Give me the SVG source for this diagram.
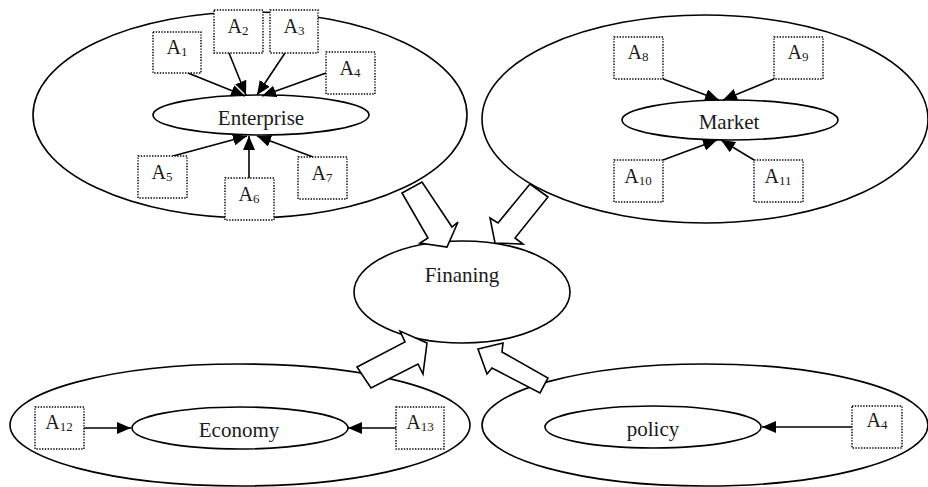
<svg xmlns="http://www.w3.org/2000/svg" width="928" height="487" viewBox="0 0 928 487">
<style>
.outer{fill:none;stroke:#000;stroke-width:1.6}
.inner{fill:#fff;stroke:#000;stroke-width:1.6}
.box{fill:#fff;stroke:#000;stroke-width:1.4;stroke-dasharray:1.4 1.4}
.lbl{font-family:"Liberation Serif","Times New Roman",serif;font-size:21px;fill:#1a1a1a;text-anchor:middle}
.a{font-family:"Liberation Serif","Times New Roman",serif;font-size:20px;fill:#1a1a1a;text-anchor:middle}
.s{font-size:13px}
.con{fill:none;stroke:#000;stroke-width:1.6;marker-end:url(#ah)}
.blk{fill:#fff;stroke:#000;stroke-width:1.6;stroke-linejoin:miter}
</style>
<defs>
<marker id="ah" markerUnits="userSpaceOnUse" markerWidth="14" markerHeight="12" refX="14" refY="6" orient="auto">
<path d="M0,0 L14,6 L0,12 z" fill="#000"/>
</marker>
</defs>
<rect width="928" height="487" fill="#fff"/>

<g id="enterprise-group">
<ellipse class="outer" cx="250" cy="115" rx="217" ry="103"/>
<ellipse class="inner" cx="261" cy="115" rx="108" ry="20"/>
<text class="lbl" x="261" y="125">Enterprise</text>
</g>
<g id="market-group">
<ellipse class="outer" cx="705" cy="119" rx="223" ry="104"/>
<ellipse class="inner" cx="730" cy="120" rx="108" ry="20"/>
<text class="lbl" x="729" y="129">Market</text>
</g>
<g id="economy-group">
<ellipse class="outer" cx="240" cy="425" rx="230" ry="61"/>
<ellipse class="inner" cx="240" cy="428" rx="108" ry="21"/>
<text class="lbl" x="239" y="437">Economy</text>
</g>
<g id="policy-group">
<ellipse class="outer" cx="705" cy="425" rx="223" ry="61"/>
<ellipse class="inner" cx="653" cy="427" rx="108" ry="21"/>
<text class="lbl" x="653" y="436">policy</text>
</g>
<g id="financing">
<ellipse class="inner" cx="462" cy="292" rx="108" ry="51"/>
<text class="lbl" x="462" y="282">Finaning</text>
</g>

<g id="connectors">
<line class="con" x1="188" y1="73" x2="245" y2="96"/>
<line class="con" x1="229" y1="53" x2="246" y2="95"/>
<line class="con" x1="285" y1="53" x2="257" y2="95"/>
<line class="con" x1="326" y1="73" x2="262" y2="96"/>
<line class="con" x1="173" y1="156" x2="247" y2="136"/>
<line class="con" x1="249" y1="178" x2="249" y2="136"/>
<line class="con" x1="313" y1="157" x2="257" y2="136"/>
<line class="con" x1="663" y1="79" x2="719" y2="100"/>
<line class="con" x1="774" y1="79" x2="723" y2="100"/>
<line class="con" x1="663" y1="160" x2="717" y2="140"/>
<line class="con" x1="754" y1="160" x2="721" y2="140"/>
<line class="con" x1="84" y1="428" x2="131" y2="428"/>
<line class="con" x1="396" y1="428" x2="348" y2="428"/>
<line class="con" x1="852" y1="427" x2="762" y2="427"/>
<polygon class="blk" points="402,193 422,182 452,227 458,222 447,247 420,243 428,238"/>
<polygon class="blk" points="530,184 548,197 515,238 523,244 495,243 490,218 498,223"/>
<polygon class="blk" points="357,367 405,342 400,331 427,343 423,374 418,364 371,388"/>
<polygon class="blk" points="478,349 503,343 502,352 548,378 540,393 492,368 487,374"/>
</g>

<g id="A1"><rect class="box" x="153" y="32" width="48" height="41"/><text class="a" x="177" y="54">A<tspan class="s" dy="2">1</tspan></text></g>
<g id="A2"><rect class="box" x="214" y="10" width="49" height="43"/><text class="a" x="238" y="33">A<tspan class="s" dy="2">2</tspan></text></g>
<g id="A3"><rect class="box" x="270" y="10" width="48" height="43"/><text class="a" x="294" y="33">A<tspan class="s" dy="2">3</tspan></text></g>
<g id="A4"><rect class="box" x="326" y="52" width="49" height="42"/><text class="a" x="350" y="75">A<tspan class="s" dy="2">4</tspan></text></g>
<g id="A5"><rect class="box" x="138" y="156" width="49" height="42"/><text class="a" x="162" y="179">A<tspan class="s" dy="2">5</tspan></text></g>
<g id="A6"><rect class="box" x="225" y="178" width="49" height="42"/><text class="a" x="249" y="201">A<tspan class="s" dy="2">6</tspan></text></g>
<g id="A7"><rect class="box" x="298" y="157" width="49" height="42"/><text class="a" x="322" y="180">A<tspan class="s" dy="2">7</tspan></text></g>
<g id="A8"><rect class="box" x="614" y="37" width="49" height="42"/><text class="a" x="638" y="59">A<tspan class="s" dy="2">8</tspan></text></g>
<g id="A9"><rect class="box" x="774" y="37" width="49" height="42"/><text class="a" x="798" y="59">A<tspan class="s" dy="2">9</tspan></text></g>
<g id="A10"><rect class="box" x="614" y="160" width="49" height="42"/><text class="a" x="638" y="183">A<tspan class="s" dy="2">10</tspan></text></g>
<g id="A11"><rect class="box" x="754" y="160" width="49" height="42"/><text class="a" x="778" y="183">A<tspan class="s" dy="2">11</tspan></text></g>
<g id="A12"><rect class="box" x="35" y="407" width="49" height="42"/><text class="a" x="59" y="429">A<tspan class="s" dy="2">12</tspan></text></g>
<g id="A13"><rect class="box" x="396" y="407" width="48" height="42"/><text class="a" x="420" y="429">A<tspan class="s" dy="2">13</tspan></text></g>
<g id="A4-policy"><rect class="box" x="852" y="406" width="50" height="42"/><text class="a" x="877" y="427">A<tspan class="s" dy="2">4</tspan></text></g>
</svg>
